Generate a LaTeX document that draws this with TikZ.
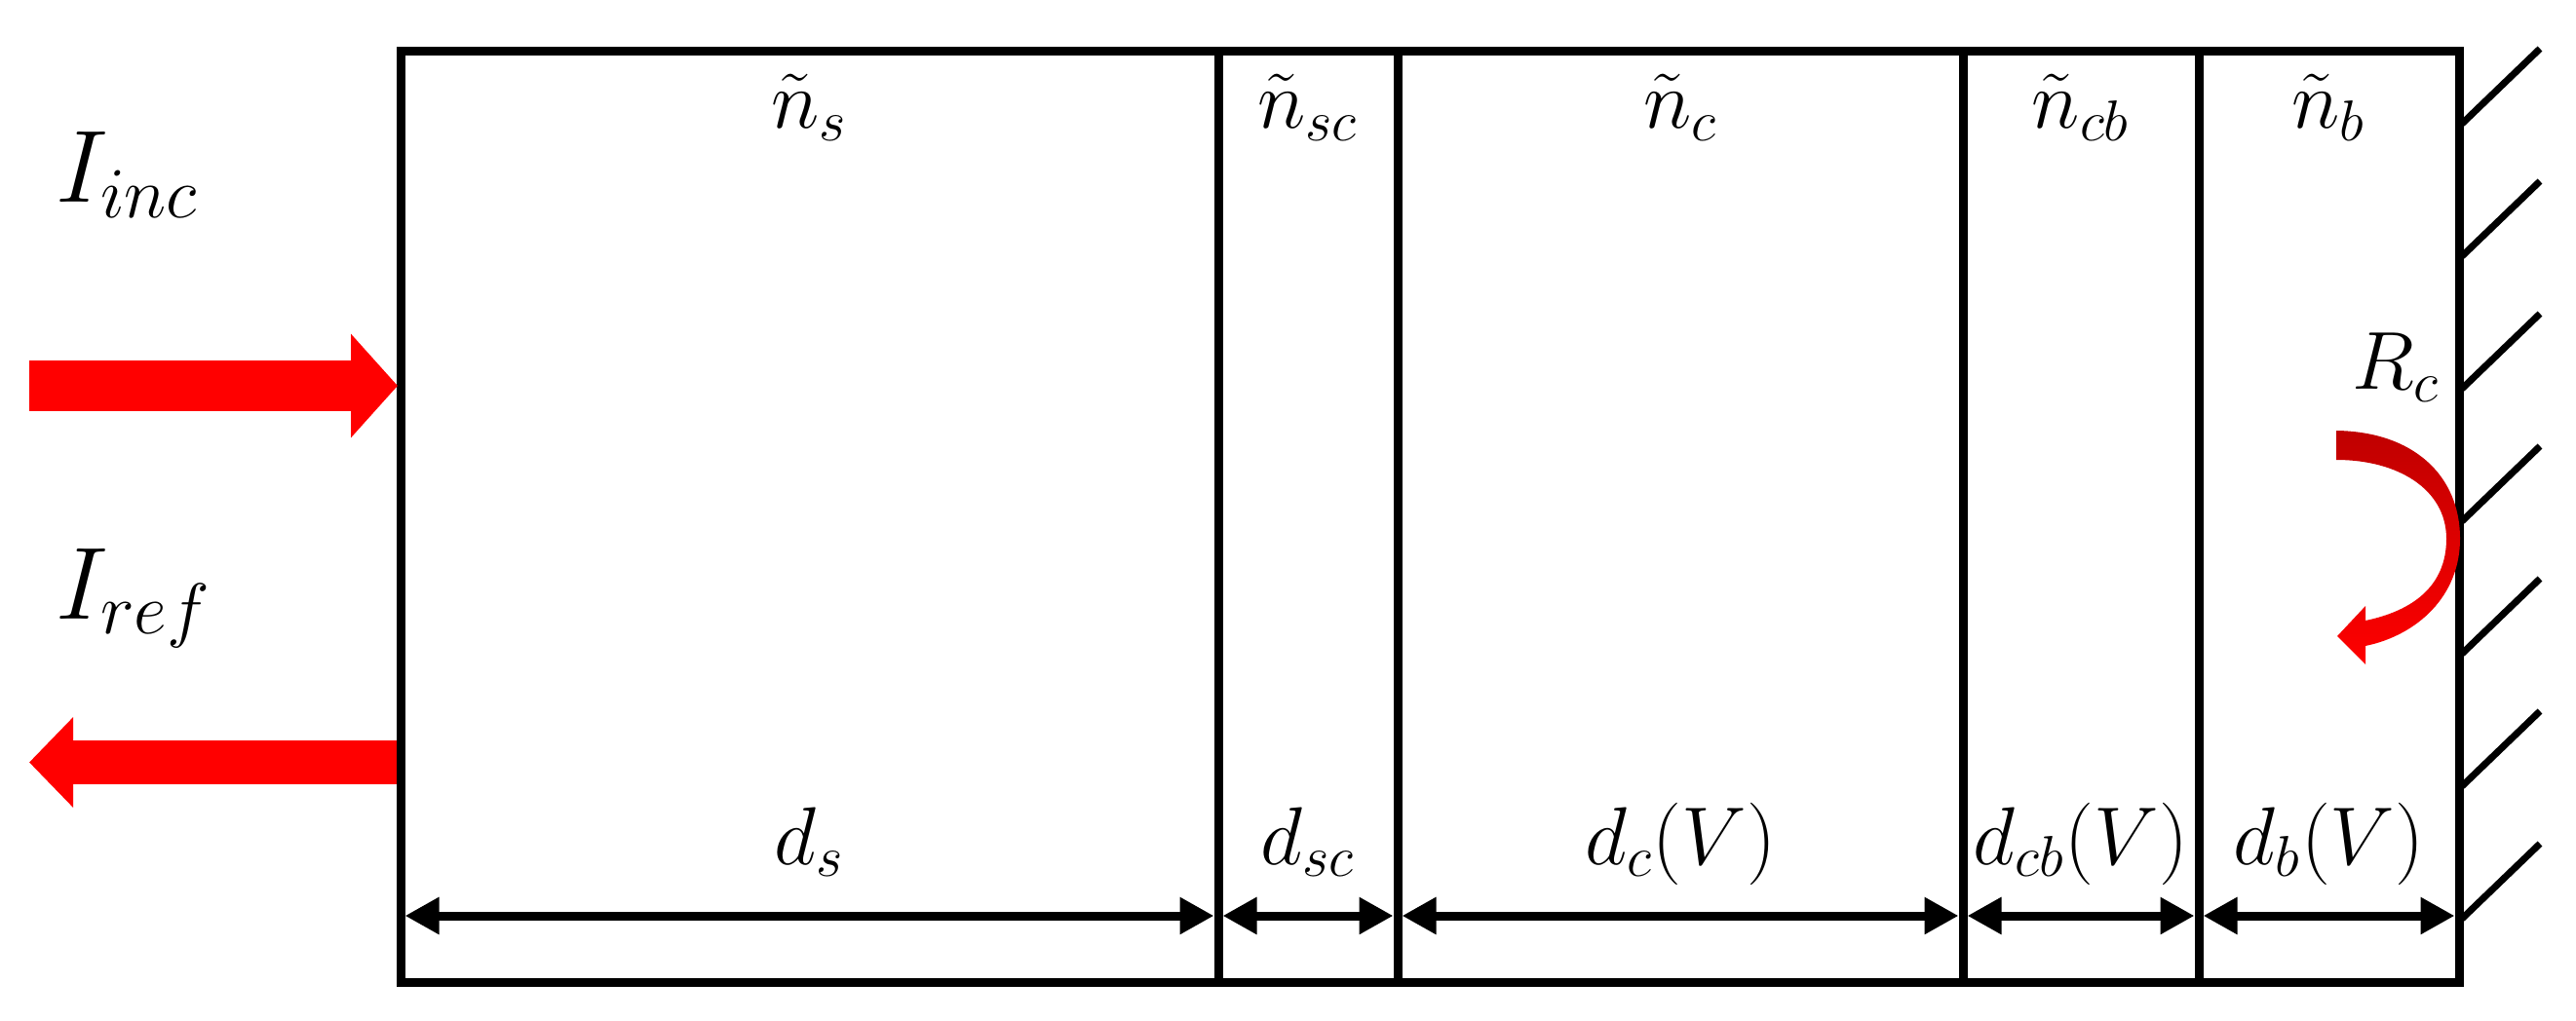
\RequirePackage{fix-cm}
\documentclass[tikz,border=0pt]{standalone}
\usepackage{amsmath}
\usepackage{tikz}
\usetikzlibrary{arrows.meta,positioning,calc}

\begin{document}
\begin{tikzpicture}[>={Triangle[length=3.5mm,width=3.6mm]},node distance=0pt,
  layer/.style={draw,line width=0.9mm,minimum height=9.55cm,outer sep=0pt,inner sep=0pt},
  lab/.style={font=\fontsize{24}{28}\selectfont,inner sep=0pt,anchor=base},
  big/.style={font=\fontsize{30}{36}\selectfont,inner sep=0pt,anchor=base west},
  dim/.style={<->,line width=0.9mm,shorten <=0.45mm,shorten >=0.45mm},
  beam/.style={red,line width=#1},
  hatch/.style={line width=0.7mm}]
  \useasboundingbox (0,0) rectangle (26.43,10.47);
  % layers of the cell
  \node[layer,minimum width=8.39cm] (s) at (8.305,5.165) {};
  \node[layer,minimum width=1.84cm,right=of s] (sc) {};
  \node[layer,minimum width=5.80cm,right=of sc] (c) {};
  \node[layer,minimum width=2.42cm,right=of c] (cb) {};
  \node[layer,minimum width=2.67cm,right=of cb] (b) {};
  % refractive indices
  \node[lab] (ns) at ([yshift=-7.9mm]s.north) {$\tilde{n}_s$};
  \node[lab] (nsc) at ([yshift=-7.9mm]sc.north) {$\tilde{n}_{sc}$};
  \node[lab] (nc) at ([yshift=-7.9mm]c.north) {$\tilde{n}_c$};
  \node[lab] (ncb) at ([yshift=-7.9mm]cb.north) {$\tilde{n}_{cb}$};
  \node[lab] (nb) at ([yshift=-7.9mm]b.north) {$\tilde{n}_b$};
  % thicknesses
  \draw[dim] ([yshift=6.8mm]s.south west) -- ([yshift=6.8mm]s.south east);
  \draw[dim] ([yshift=6.8mm]sc.south west) -- ([yshift=6.8mm]sc.south east);
  \draw[dim] ([yshift=6.8mm]c.south west) -- ([yshift=6.8mm]c.south east);
  \draw[dim] ([yshift=6.8mm]cb.south west) -- ([yshift=6.8mm]cb.south east);
  \draw[dim] ([yshift=6.8mm]b.south west) -- ([yshift=6.8mm]b.south east);
  \node[lab] (ds) at ([yshift=12.1mm]s.south) {$d_s$};
  \node[lab] (dsc) at ([yshift=12.1mm]sc.south) {$d_{sc}$};
  \node[lab] (dc) at ([yshift=12.1mm]c.south) {$d_c(V)$};
  \node[lab] (dcb) at ([yshift=12.1mm]cb.south) {$d_{cb}(V)$};
  \node[lab] (db) at ([yshift=12.1mm]b.south) {$d_b(V)$};
  % incoming and reflected light
  \node[big] (iinc) at (0.57,8.39) {$I_{inc}$};
  \node[big] (iref) at (0.57,4.12) {$I_{ref}$};
  \coordinate (src) at (0.30,6.51);
  \coordinate (out) at (0.30,2.645);
  \draw[beam=5.2mm,-{Triangle[length=4.8mm,width=10.4mm]},shorten >=0.3mm] (src) -- (src -| s.west);
  \draw[beam=4.5mm,-{Triangle[length=4.5mm,width=9.0mm]},shorten <=0.45mm] (out -| s.west) -- (out);
  % back contact
  \draw[hatch] (25.26,9.20) -- ++(0.8,0.77) (25.26,7.84) -- ++(0.8,0.77)
    (25.26,6.48) -- ++(0.8,0.77) (25.26,5.12) -- ++(0.8,0.77)
    (25.26,3.76) -- ++(0.8,0.77) (25.26,2.40) -- ++(0.8,0.77)
    (25.26,1.04) -- ++(0.8,0.77);
  \node[lab] (rc) at (24.58,6.47) {$R_c$};
  \shade[top color=red!75!black,bottom color=red]
    (23.97,6.05) .. controls (24.75,6.04) and (25.24,5.6) .. (25.24,4.94)
    .. controls (25.24,4.35) and (24.8,3.95) .. (24.27,3.84)
    -- (24.27,3.65) -- (23.98,3.94) -- (24.27,4.25) -- (24.27,4.10)
    .. controls (24.75,4.2) and (25.1,4.45) .. (25.1,4.94)
    .. controls (25.1,5.45) and (24.6,5.75) .. (23.97,5.75) -- cycle;
\end{tikzpicture}
\end{document}
